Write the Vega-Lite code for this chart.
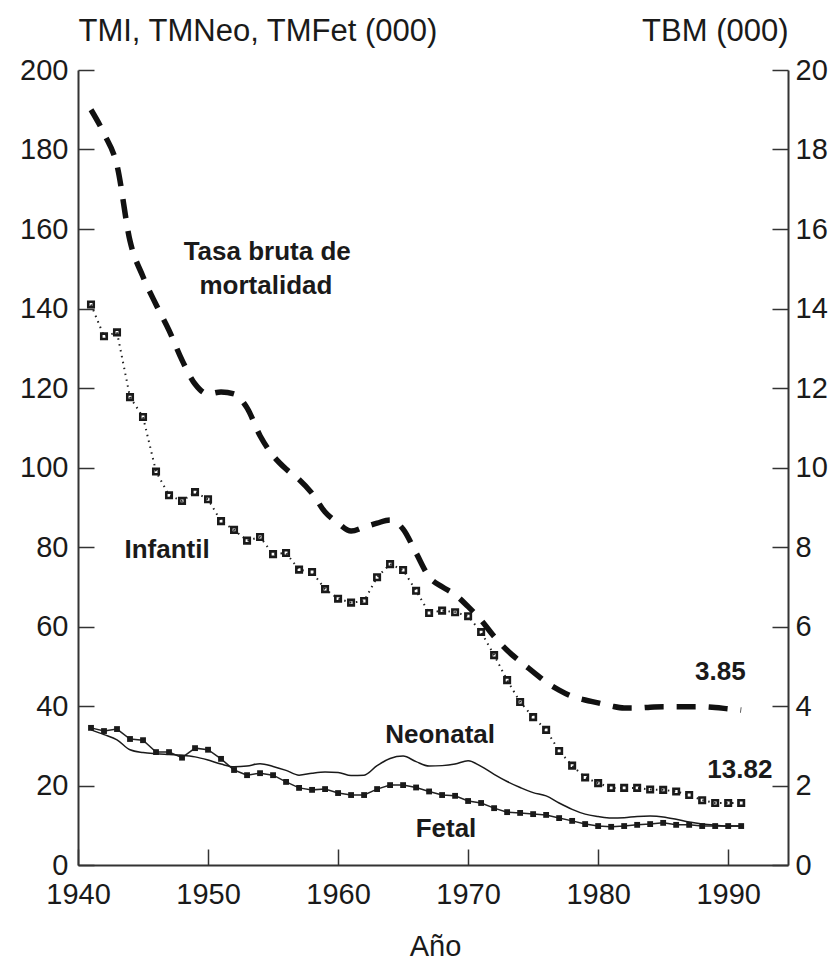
{
  "$schema": "https://vega.github.io/schema/vega-lite/v6.json",
  "width": 710,
  "height": 795,
  "autosize": "none",
  "padding": {"left": 78, "top": 70, "right": 44, "bottom": 95},
  "background": "white",
  "config": {
    "view": {"stroke": null},
    "axis": {
      "grid": false,
      "labelFont": "Liberation Sans",
      "labelFontSize": 29,
      "labelColor": "#1a1a1a",
      "labelFlush": false,
      "labelOverlap": false,
      "domainColor": "#333",
      "domainWidth": 2,
      "tickColor": "#333",
      "tickWidth": 1.5,
      "tickSize": -16,
      "titleFont": "Liberation Sans",
      "titleFontWeight": "normal",
      "titleFontSize": 31,
      "titleColor": "#1a1a1a"
    }
  },
  "datasets": {
    "series": [
      {"year": 1941, "serie": "Infantil", "valor": 141}, {"year": 1942, "serie": "Infantil", "valor": 133}, {"year": 1943, "serie": "Infantil", "valor": 134}, {"year": 1944, "serie": "Infantil", "valor": 117.7}, {"year": 1945, "serie": "Infantil", "valor": 112.7}, {"year": 1946, "serie": "Infantil", "valor": 99}, {"year": 1947, "serie": "Infantil", "valor": 93}, {"year": 1948, "serie": "Infantil", "valor": 91.6}, {"year": 1949, "serie": "Infantil", "valor": 93.8}, {"year": 1950, "serie": "Infantil", "valor": 92}, {"year": 1951, "serie": "Infantil", "valor": 86.5}, {"year": 1952, "serie": "Infantil", "valor": 84.3}, {"year": 1953, "serie": "Infantil", "valor": 81.6}, {"year": 1954, "serie": "Infantil", "valor": 82.5}, {"year": 1955, "serie": "Infantil", "valor": 78.2}, {"year": 1956, "serie": "Infantil", "valor": 78.5}, {"year": 1957, "serie": "Infantil", "valor": 74.3}, {"year": 1958, "serie": "Infantil", "valor": 73.7}, {"year": 1959, "serie": "Infantil", "valor": 69.4}, {"year": 1960, "serie": "Infantil", "valor": 67}, {"year": 1961, "serie": "Infantil", "valor": 66}, {"year": 1962, "serie": "Infantil", "valor": 66.4}, {"year": 1963, "serie": "Infantil", "valor": 72.4}, {"year": 1964, "serie": "Infantil", "valor": 75.7}, {"year": 1965, "serie": "Infantil", "valor": 74.2}, {"year": 1966, "serie": "Infantil", "valor": 69}, {"year": 1967, "serie": "Infantil", "valor": 63.4}, {"year": 1968, "serie": "Infantil", "valor": 64}, {"year": 1969, "serie": "Infantil", "valor": 63.6}, {"year": 1970, "serie": "Infantil", "valor": 62.6}, {"year": 1971, "serie": "Infantil", "valor": 58.6}, {"year": 1972, "serie": "Infantil", "valor": 52.8}, {"year": 1973, "serie": "Infantil", "valor": 46.5}, {"year": 1974, "serie": "Infantil", "valor": 41}, {"year": 1975, "serie": "Infantil", "valor": 37.2}, {"year": 1976, "serie": "Infantil", "valor": 34}, {"year": 1977, "serie": "Infantil", "valor": 28.7}, {"year": 1978, "serie": "Infantil", "valor": 25}, {"year": 1979, "serie": "Infantil", "valor": 22}, {"year": 1980, "serie": "Infantil", "valor": 20.6}, {"year": 1981, "serie": "Infantil", "valor": 19.4}, {"year": 1982, "serie": "Infantil", "valor": 19.4}, {"year": 1983, "serie": "Infantil", "valor": 19.4}, {"year": 1984, "serie": "Infantil", "valor": 19}, {"year": 1985, "serie": "Infantil", "valor": 18.9}, {"year": 1986, "serie": "Infantil", "valor": 18.5}, {"year": 1987, "serie": "Infantil", "valor": 17.6}, {"year": 1988, "serie": "Infantil", "valor": 16.3}, {"year": 1989, "serie": "Infantil", "valor": 15.6}, {"year": 1990, "serie": "Infantil", "valor": 15.6}, {"year": 1991, "serie": "Infantil", "valor": 15.6},
      {"year": 1941, "serie": "Fetal", "valor": 34.5}, {"year": 1942, "serie": "Fetal", "valor": 33.7}, {"year": 1943, "serie": "Fetal", "valor": 34.2}, {"year": 1944, "serie": "Fetal", "valor": 31.7}, {"year": 1945, "serie": "Fetal", "valor": 31.4}, {"year": 1946, "serie": "Fetal", "valor": 28.4}, {"year": 1947, "serie": "Fetal", "valor": 28.4}, {"year": 1948, "serie": "Fetal", "valor": 27}, {"year": 1949, "serie": "Fetal", "valor": 29.4}, {"year": 1950, "serie": "Fetal", "valor": 29}, {"year": 1951, "serie": "Fetal", "valor": 26.7}, {"year": 1952, "serie": "Fetal", "valor": 23.9}, {"year": 1953, "serie": "Fetal", "valor": 22.6}, {"year": 1954, "serie": "Fetal", "valor": 23.1}, {"year": 1955, "serie": "Fetal", "valor": 22.6}, {"year": 1956, "serie": "Fetal", "valor": 20.9}, {"year": 1957, "serie": "Fetal", "valor": 19.4}, {"year": 1958, "serie": "Fetal", "valor": 18.9}, {"year": 1959, "serie": "Fetal", "valor": 19.1}, {"year": 1960, "serie": "Fetal", "valor": 18.1}, {"year": 1961, "serie": "Fetal", "valor": 17.6}, {"year": 1962, "serie": "Fetal", "valor": 17.6}, {"year": 1963, "serie": "Fetal", "valor": 19.1}, {"year": 1964, "serie": "Fetal", "valor": 20.1}, {"year": 1965, "serie": "Fetal", "valor": 20.1}, {"year": 1966, "serie": "Fetal", "valor": 19.5}, {"year": 1967, "serie": "Fetal", "valor": 18.5}, {"year": 1968, "serie": "Fetal", "valor": 17.6}, {"year": 1969, "serie": "Fetal", "valor": 17.4}, {"year": 1970, "serie": "Fetal", "valor": 16.1}, {"year": 1971, "serie": "Fetal", "valor": 15.6}, {"year": 1972, "serie": "Fetal", "valor": 14.3}, {"year": 1973, "serie": "Fetal", "valor": 13.3}, {"year": 1974, "serie": "Fetal", "valor": 13.1}, {"year": 1975, "serie": "Fetal", "valor": 12.8}, {"year": 1976, "serie": "Fetal", "valor": 12.6}, {"year": 1977, "serie": "Fetal", "valor": 11.8}, {"year": 1978, "serie": "Fetal", "valor": 11.1}, {"year": 1979, "serie": "Fetal", "valor": 10.3}, {"year": 1980, "serie": "Fetal", "valor": 9.8}, {"year": 1981, "serie": "Fetal", "valor": 9.6}, {"year": 1982, "serie": "Fetal", "valor": 9.8}, {"year": 1983, "serie": "Fetal", "valor": 10.1}, {"year": 1984, "serie": "Fetal", "valor": 10.3}, {"year": 1985, "serie": "Fetal", "valor": 10.6}, {"year": 1986, "serie": "Fetal", "valor": 10.1}, {"year": 1987, "serie": "Fetal", "valor": 10.1}, {"year": 1988, "serie": "Fetal", "valor": 9.8}, {"year": 1989, "serie": "Fetal", "valor": 9.8}, {"year": 1990, "serie": "Fetal", "valor": 9.8}, {"year": 1991, "serie": "Fetal", "valor": 9.8},
      {"year": 1941, "serie": "Neonatal", "valor": 34}, {"year": 1942, "serie": "Neonatal", "valor": 32.8}, {"year": 1943, "serie": "Neonatal", "valor": 31.5}, {"year": 1944, "serie": "Neonatal", "valor": 29}, {"year": 1945, "serie": "Neonatal", "valor": 28.3}, {"year": 1946, "serie": "Neonatal", "valor": 28}, {"year": 1947, "serie": "Neonatal", "valor": 27.8}, {"year": 1948, "serie": "Neonatal", "valor": 27.6}, {"year": 1949, "serie": "Neonatal", "valor": 27.2}, {"year": 1950, "serie": "Neonatal", "valor": 26.4}, {"year": 1951, "serie": "Neonatal", "valor": 25.4}, {"year": 1952, "serie": "Neonatal", "valor": 24.7}, {"year": 1953, "serie": "Neonatal", "valor": 24.9}, {"year": 1954, "serie": "Neonatal", "valor": 25.5}, {"year": 1955, "serie": "Neonatal", "valor": 24.8}, {"year": 1956, "serie": "Neonatal", "valor": 23.8}, {"year": 1957, "serie": "Neonatal", "valor": 22.6}, {"year": 1958, "serie": "Neonatal", "valor": 23.1}, {"year": 1959, "serie": "Neonatal", "valor": 23.4}, {"year": 1960, "serie": "Neonatal", "valor": 23.3}, {"year": 1961, "serie": "Neonatal", "valor": 22.5}, {"year": 1962, "serie": "Neonatal", "valor": 22.6}, {"year": 1963, "serie": "Neonatal", "valor": 25}, {"year": 1964, "serie": "Neonatal", "valor": 26.8}, {"year": 1965, "serie": "Neonatal", "valor": 27.4}, {"year": 1966, "serie": "Neonatal", "valor": 26}, {"year": 1967, "serie": "Neonatal", "valor": 24.9}, {"year": 1968, "serie": "Neonatal", "valor": 25}, {"year": 1969, "serie": "Neonatal", "valor": 25.4}, {"year": 1970, "serie": "Neonatal", "valor": 26.2}, {"year": 1971, "serie": "Neonatal", "valor": 24.8}, {"year": 1972, "serie": "Neonatal", "valor": 22.8}, {"year": 1973, "serie": "Neonatal", "valor": 21}, {"year": 1974, "serie": "Neonatal", "valor": 19.5}, {"year": 1975, "serie": "Neonatal", "valor": 18.2}, {"year": 1976, "serie": "Neonatal", "valor": 17.4}, {"year": 1977, "serie": "Neonatal", "valor": 15.6}, {"year": 1978, "serie": "Neonatal", "valor": 14}, {"year": 1979, "serie": "Neonatal", "valor": 12.8}, {"year": 1980, "serie": "Neonatal", "valor": 12.2}, {"year": 1981, "serie": "Neonatal", "valor": 11.8}, {"year": 1982, "serie": "Neonatal", "valor": 11.9}, {"year": 1983, "serie": "Neonatal", "valor": 12.2}, {"year": 1984, "serie": "Neonatal", "valor": 12.3}, {"year": 1985, "serie": "Neonatal", "valor": 12.1}, {"year": 1986, "serie": "Neonatal", "valor": 11.5}, {"year": 1987, "serie": "Neonatal", "valor": 10.8}, {"year": 1988, "serie": "Neonatal", "valor": 10.3}, {"year": 1989, "serie": "Neonatal", "valor": 10}, {"year": 1990, "serie": "Neonatal", "valor": 9.8}, {"year": 1991, "serie": "Neonatal", "valor": 9.8}
    ],
    "tbm": [
      {"year": 1941, "tbm": 19.0}, {"year": 1942, "tbm": 18.4}, {"year": 1943, "tbm": 17.6}, {"year": 1944, "tbm": 15.7}, {"year": 1945, "tbm": 14.8}, {"year": 1946, "tbm": 14.1}, {"year": 1947, "tbm": 13.45}, {"year": 1948, "tbm": 12.7}, {"year": 1949, "tbm": 12.1}, {"year": 1950, "tbm": 11.85}, {"year": 1951, "tbm": 11.9}, {"year": 1952, "tbm": 11.85}, {"year": 1953, "tbm": 11.5}, {"year": 1954, "tbm": 10.8}, {"year": 1955, "tbm": 10.3}, {"year": 1956, "tbm": 9.96}, {"year": 1957, "tbm": 9.7}, {"year": 1958, "tbm": 9.35}, {"year": 1959, "tbm": 8.88}, {"year": 1960, "tbm": 8.6}, {"year": 1961, "tbm": 8.4}, {"year": 1962, "tbm": 8.5}, {"year": 1963, "tbm": 8.6}, {"year": 1964, "tbm": 8.68}, {"year": 1965, "tbm": 8.45}, {"year": 1966, "tbm": 7.85}, {"year": 1967, "tbm": 7.25}, {"year": 1968, "tbm": 7.0}, {"year": 1969, "tbm": 6.8}, {"year": 1970, "tbm": 6.5}, {"year": 1971, "tbm": 6.16}, {"year": 1972, "tbm": 5.75}, {"year": 1973, "tbm": 5.4}, {"year": 1974, "tbm": 5.12}, {"year": 1975, "tbm": 4.86}, {"year": 1976, "tbm": 4.6}, {"year": 1977, "tbm": 4.4}, {"year": 1978, "tbm": 4.24}, {"year": 1979, "tbm": 4.15}, {"year": 1980, "tbm": 4.08}, {"year": 1981, "tbm": 4.0}, {"year": 1982, "tbm": 3.95}, {"year": 1983, "tbm": 3.95}, {"year": 1984, "tbm": 3.97}, {"year": 1985, "tbm": 3.98}, {"year": 1986, "tbm": 3.98}, {"year": 1987, "tbm": 3.98}, {"year": 1988, "tbm": 3.98}, {"year": 1989, "tbm": 3.96}, {"year": 1990, "tbm": 3.93}, {"year": 1991, "tbm": 3.9}
    ],
    "labels": [
      {"year": 1954.55, "valor": 152.2, "texto": "Tasa bruta de"},
      {"year": 1954.45, "valor": 143.6, "texto": "mortalidad"},
      {"year": 1946.85, "valor": 77.2, "texto": "Infantil"},
      {"year": 1967.85, "valor": 30.7, "texto": "Neonatal"},
      {"year": 1968.3, "valor": 7.0, "texto": "Fetal"},
      {"year": 1989.4, "valor": 46.5, "texto": "3.85"},
      {"year": 1990.9, "valor": 21.9, "texto": "13.82"}
    ]
  },
  "encoding": {
    "x": {
      "field": "year",
      "type": "quantitative",
      "scale": {"domain": [1940, 1994.6], "nice": false, "zero": false},
      "axis": {
        "values": [1940, 1950, 1960, 1970, 1980, 1990],
        "format": "d",
        "labelPadding": 31,
        "title": "Año",
        "titleX": 357,
        "titleY": 90,
        "titleAlign": "center",
        "titleBaseline": "alphabetic",
        "titleFontSize": 29
      }
    }
  },
  "layer": [
    {
      "data": {"name": "series"},
      "encoding": {
        "y": {
          "field": "valor",
          "type": "quantitative",
          "scale": {"domain": [0, 200], "nice": false},
          "axis": {
            "orient": "left",
            "values": [0, 20, 40, 60, 80, 100, 120, 140, 160, 180, 200],
            "labelPadding": 26,
            "title": "TMI, TMNeo, TMFet (000)",
            "titleAngle": 0,
            "titleX": 0,
            "titleY": -30,
            "titleAlign": "left",
            "titleBaseline": "alphabetic"
          }
        }
      },
      "layer": [
        {
          "transform": [{"filter": "datum.serie === 'Infantil'"}],
          "mark": {"type": "line", "color": "#222", "strokeWidth": 2, "strokeDash": [1.5, 4.5]}
        },
        {
          "transform": [{"filter": "datum.serie === 'Infantil'"}],
          "mark": {"type": "point", "shape": "square", "filled": false, "color": "#1a1a1a", "strokeWidth": 2.6, "size": 30, "opacity": 1}
        },
        {
          "transform": [{"filter": "datum.serie === 'Fetal'"}],
          "mark": {"type": "line", "color": "#222", "strokeWidth": 1.5}
        },
        {
          "transform": [{"filter": "datum.serie === 'Fetal'"}],
          "mark": {"type": "point", "shape": "square", "filled": true, "color": "#1a1a1a", "size": 34, "opacity": 1}
        },
        {
          "transform": [{"filter": "datum.serie === 'Neonatal'"}],
          "mark": {"type": "line", "color": "#1a1a1a", "strokeWidth": 1.5, "interpolate": "monotone"}
        },
        {
          "data": {"name": "labels"},
          "mark": {"type": "text", "font": "Liberation Sans", "fontWeight": "bold", "fontSize": 26, "color": "#1a1a1a", "align": "center", "baseline": "alphabetic"},
          "encoding": {"text": {"field": "texto"}}
        }
      ]
    },
    {
      "data": {"name": "tbm"},
      "mark": {"type": "line", "color": "#111", "strokeWidth": 5.5, "strokeDash": [19, 13], "strokeCap": "butt", "interpolate": "monotone"},
      "encoding": {
        "y": {
          "field": "tbm",
          "type": "quantitative",
          "scale": {"domain": [0, 20], "nice": false},
          "axis": {
            "orient": "right",
            "values": [0, 2, 4, 6, 8, 10, 12, 14, 16, 18, 20],
            "labelPadding": 23,
            "title": "TBM (000)",
            "titleAngle": 0,
            "titleX": 0,
            "titleY": -30,
            "titleAlign": "right",
            "titleBaseline": "alphabetic"
          }
        }
      }
    }
  ],
  "resolve": {"scale": {"y": "independent"}}
}
